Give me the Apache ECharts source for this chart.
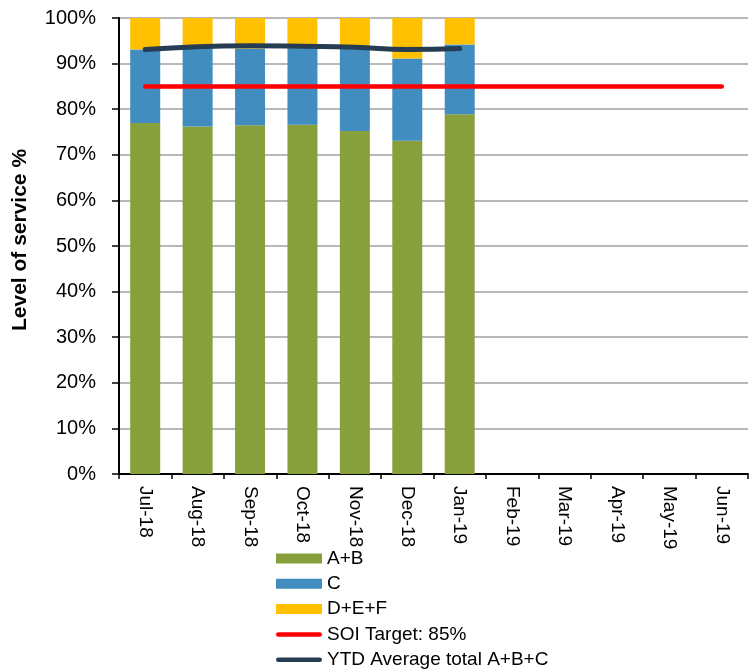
<!DOCTYPE html>
<html>
<head>
<meta charset="utf-8">
<title>Level of service</title>
<script src="https://cdn.jsdelivr.net/npm/echarts@6/dist/echarts.min.js"></script>
<style>
    html, body { margin: 0; padding: 0; background: #fff; }
    #charts { width: 749px; height: 672px; }
</style>
</head>
<body>
<div id="charts"></div>
<script>
var months = ['Jul-18', 'Aug-18', 'Sep-18', 'Oct-18', 'Nov-18', 'Dec-18',
    'Jan-19', 'Feb-19', 'Mar-19', 'Apr-19', 'May-19', 'Jun-19'];
var yTicks = [0, 10, 20, 30, 40, 50, 60, 70, 80, 90, 100];
var ab = [77.0, 76.2, 76.5, 76.6, 75.2, 73.1, 78.9];
var c = [16.1, 17.1, 16.8, 16.8, 18.0, 18.0, 15.3];
var def = [6.9, 6.7, 6.7, 6.6, 6.8, 8.9, 5.8];
var target = [85, 85, 85, 85, 85, 85, 85, 85, 85, 85, 85, 85];
var ytd = [93.1, 93.7, 93.9, 93.8, 93.6, 93.1, 93.3];

function initChart() {
    var myChart = echarts.init(document.getElementById('charts'));
    var font = 'Liberation Sans, Arial, sans-serif';
    // rounded line shape for the two line entries of the legend
    var lineIcon = 'path://M2.5,0 L48.5,0 A2.5,2.5 0 0 1 48.5,5 L2.5,5 A2.5,2.5 0 0 1 2.5,0 Z';
    var option = {
        animation: false,
        textStyle: { fontFamily: font },
        grid: {
            left: 119,
            top: 18,
            right: 1,
            bottom: 198
        },
        legend: {
            orient: 'vertical',
            left: 271,
            top: 544,
            height: 130,
            itemWidth: 46,
            itemHeight: 10,
            itemGap: 6.3,
            symbolKeepAspect: true,
            textStyle: { fontSize: 19, color: '#000', fontFamily: font, lineHeight: 19 },
            data: [
                { name: 'A+B', icon: 'rect' },
                { name: 'C', icon: 'rect' },
                { name: 'D+E+F', icon: 'rect' },
                { name: 'SOI Target: 85%', icon: lineIcon },
                { name: 'YTD Average total A+B+C', icon: lineIcon }
            ]
        },
        xAxis: {
            type: 'category',
            data: months,
            boundaryGap: true,
            axisLine: { lineStyle: { color: '#000', width: 2 } },
            axisTick: { show: true, length: 5, lineStyle: { color: '#000', width: 1.5 } },
            axisLabel: {
                rotate: -90,
                margin: 12,
                color: '#000',
                fontSize: 19,
                fontFamily: font,
                interval: 0
            }
        },
        yAxis: {
            type: 'value',
            min: 0,
            max: 100,
            interval: 10,
            name: 'Level of service %',
            nameLocation: 'middle',
            nameGap: 88,
            nameTextStyle: {
                fontSize: 21,
                fontWeight: 'bold',
                color: '#000',
                fontFamily: font,
                padding: [0, 0, 0, 12]
            },
            axisLine: { show: true, lineStyle: { color: '#000', width: 2 } },
            axisTick: { show: true, length: 7, lineStyle: { color: '#000', width: 1.5 } },
            axisLabel: {
                margin: 23,
                color: '#000',
                fontSize: 20,
                fontFamily: font,
                formatter: function (v) {
                    return yTicks.indexOf(v) >= 0 ? v + '%' : '';
                }
            },
            splitLine: { lineStyle: { color: '#a0a0a0', width: 1.5 } }
        },
        series: [
            {
                name: 'A+B',
                type: 'bar',
                stack: 'los',
                barWidth: 30,
                itemStyle: { color: '#87a03c' },
                data: ab
            },
            {
                name: 'C',
                type: 'bar',
                stack: 'los',
                itemStyle: { color: '#418dc0' },
                data: c
            },
            {
                name: 'D+E+F',
                type: 'bar',
                stack: 'los',
                itemStyle: { color: '#ffc000' },
                data: def
            },
            {
                name: 'SOI Target: 85%',
                type: 'line',
                symbol: 'none',
                itemStyle: { color: '#ff0000' },
                lineStyle: { color: '#ff0000', width: 4.5, cap: 'round' },
                data: target,
                z: 3
            },
            {
                name: 'YTD Average total A+B+C',
                type: 'line',
                smooth: true,
                symbol: 'none',
                itemStyle: { color: '#253c53' },
                lineStyle: { color: '#253c53', width: 5, cap: 'round' },
                data: ytd,
                z: 4
            }
        ]
    };
    myChart.setOption(option);
}
initChart();
</script>
</body>
</html>
